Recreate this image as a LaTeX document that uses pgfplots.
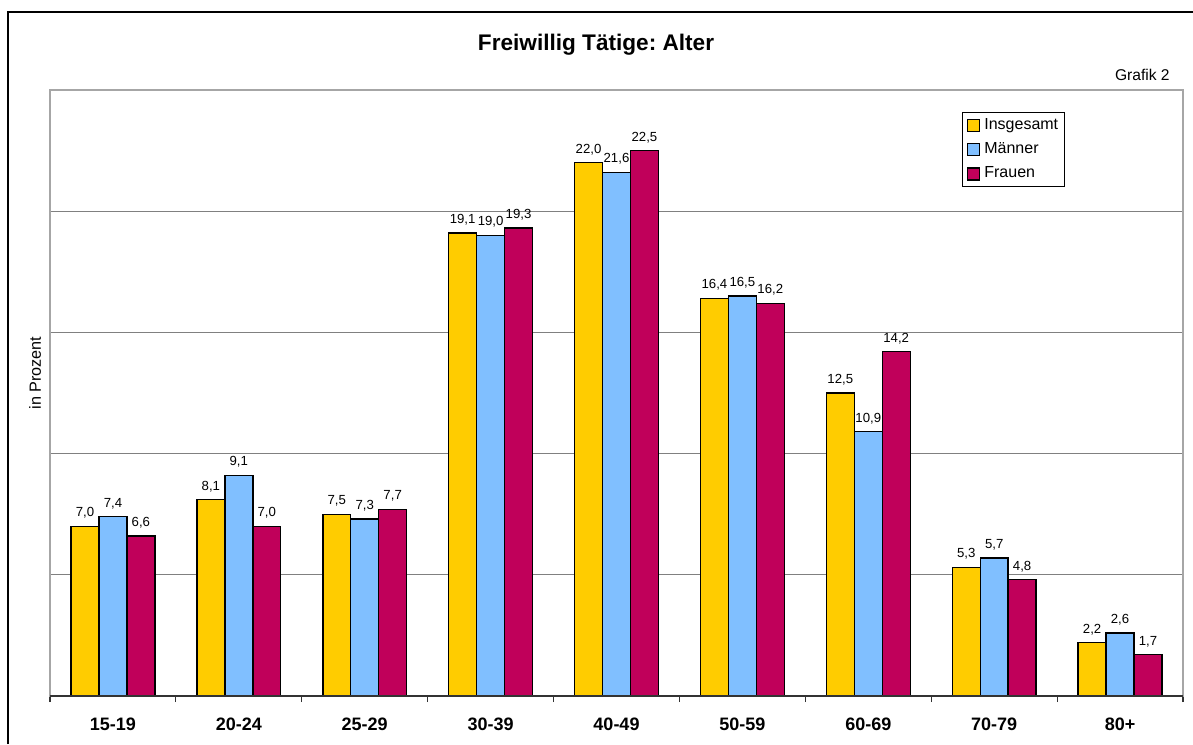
\documentclass[border=0pt]{standalone}
\usepackage{pgfplots}
\pgfplotsset{compat=1.18}
\usepackage{fontspec}
\setmainfont{Liberation Sans}
\frenchspacing
\begin{document}
\begin{tikzpicture}
\path[use as bounding box] (0pt,0pt) rectangle (596.5pt,372pt);
\draw[line width=1pt,black] (4pt,0pt) -- (4pt,366pt) -- (596.5pt,366pt);
\begin{axis}[
  at={(25pt,24pt)}, anchor=south west,
  scale only axis, width=566.5pt, height=303pt,
  xmin=-0.5, xmax=8.5, ymin=0, ymax=25,
  ybar, bar width=0.222,
  legend image code/.code={\draw[#1] (0pt,-3pt) rectangle (6pt,3pt);},
  axis line style={draw=black!35, line width=0.8pt},
  xtick={0,...,8},
  xticklabels={15-19,20-24,25-29,30-39,40-49,50-59,60-69,70-79,80+},
  minor xtick={-0.5,0.5,...,8.5},
  major tick length=0pt, minor tick length=3pt, tick align=outside,
  tick pos=left,
  minor tick style={draw=black!80, line width=0.6pt},
  xticklabel style={font=\bfseries\fontsize{9}{10}\selectfont, anchor=base, yshift=-17.2pt},
  ytick={0,5,...,25}, yticklabels={},
  ymajorgrids, grid style={draw=black!50, line width=0.5pt},
  /pgf/number format/assume math mode=true,
  nodes near coords={\pgfmathprintnumber[fixed,fixed zerofill,precision=1,use comma]{\pgfplotspointmeta}},
  nodes near coords style={font=\fontsize{6.6}{7}\selectfont, anchor=south, inner sep=0pt, yshift=3.6pt, text=black},
  legend style={at={(0.805,0.9637)}, anchor=north west, draw=black, line width=0.5pt,
    font=\fontsize{8}{9}\selectfont, inner xsep=2pt, inner ysep=2pt, row sep=3.1pt,
    nodes={inner sep=1pt}},
  legend cell align=left,
  clip=false,
]
\addplot[fill={rgb,255:red,255;green,204;blue,0}, draw=black, line width=0.7pt, bar shift=-0.222]
  coordinates {(0,7.0) (1,8.1) (2,7.5) (3,19.1) (4,22.0) (5,16.4) (6,12.5) (7,5.3) (8,2.2)};
\addplot[fill={rgb,255:red,128;green,191;blue,255}, draw=black, line width=0.7pt, bar shift=0]
  coordinates {(0,7.4) (1,9.1) (2,7.3) (3,19.0) (4,21.6) (5,16.5) (6,10.9) (7,5.7) (8,2.6)};
\addplot[fill={rgb,255:red,192;green,0;blue,90}, draw=black, line width=0.7pt, bar shift=0.222]
  coordinates {(0,6.6) (1,7.0) (2,7.7) (3,19.3) (4,22.5) (5,16.2) (6,14.2) (7,4.8) (8,1.7)};
\legend{\hspace{1.2pt}Insgesamt\hspace{3pt},\hspace{1.2pt}Männer,\hspace{1.2pt}Frauen}
\draw[black!80, line width=0.8pt] (rel axis cs:0,0) -- (rel axis cs:1,0);
\end{axis}
\node[font=\bfseries\fontsize{11.3}{13}\selectfont] at (298pt,349.5pt) {Freiwillig Tätige: Alter};
\node[anchor=east, inner sep=0pt, font=\fontsize{7.8}{9}\selectfont] at (585pt,334.5pt) {Grafik 2};
\node[rotate=90, inner sep=0pt, font=\fontsize{8.1}{9}\selectfont] at (17.5pt,185.5pt) {in Prozent};
\end{tikzpicture}
\end{document}
